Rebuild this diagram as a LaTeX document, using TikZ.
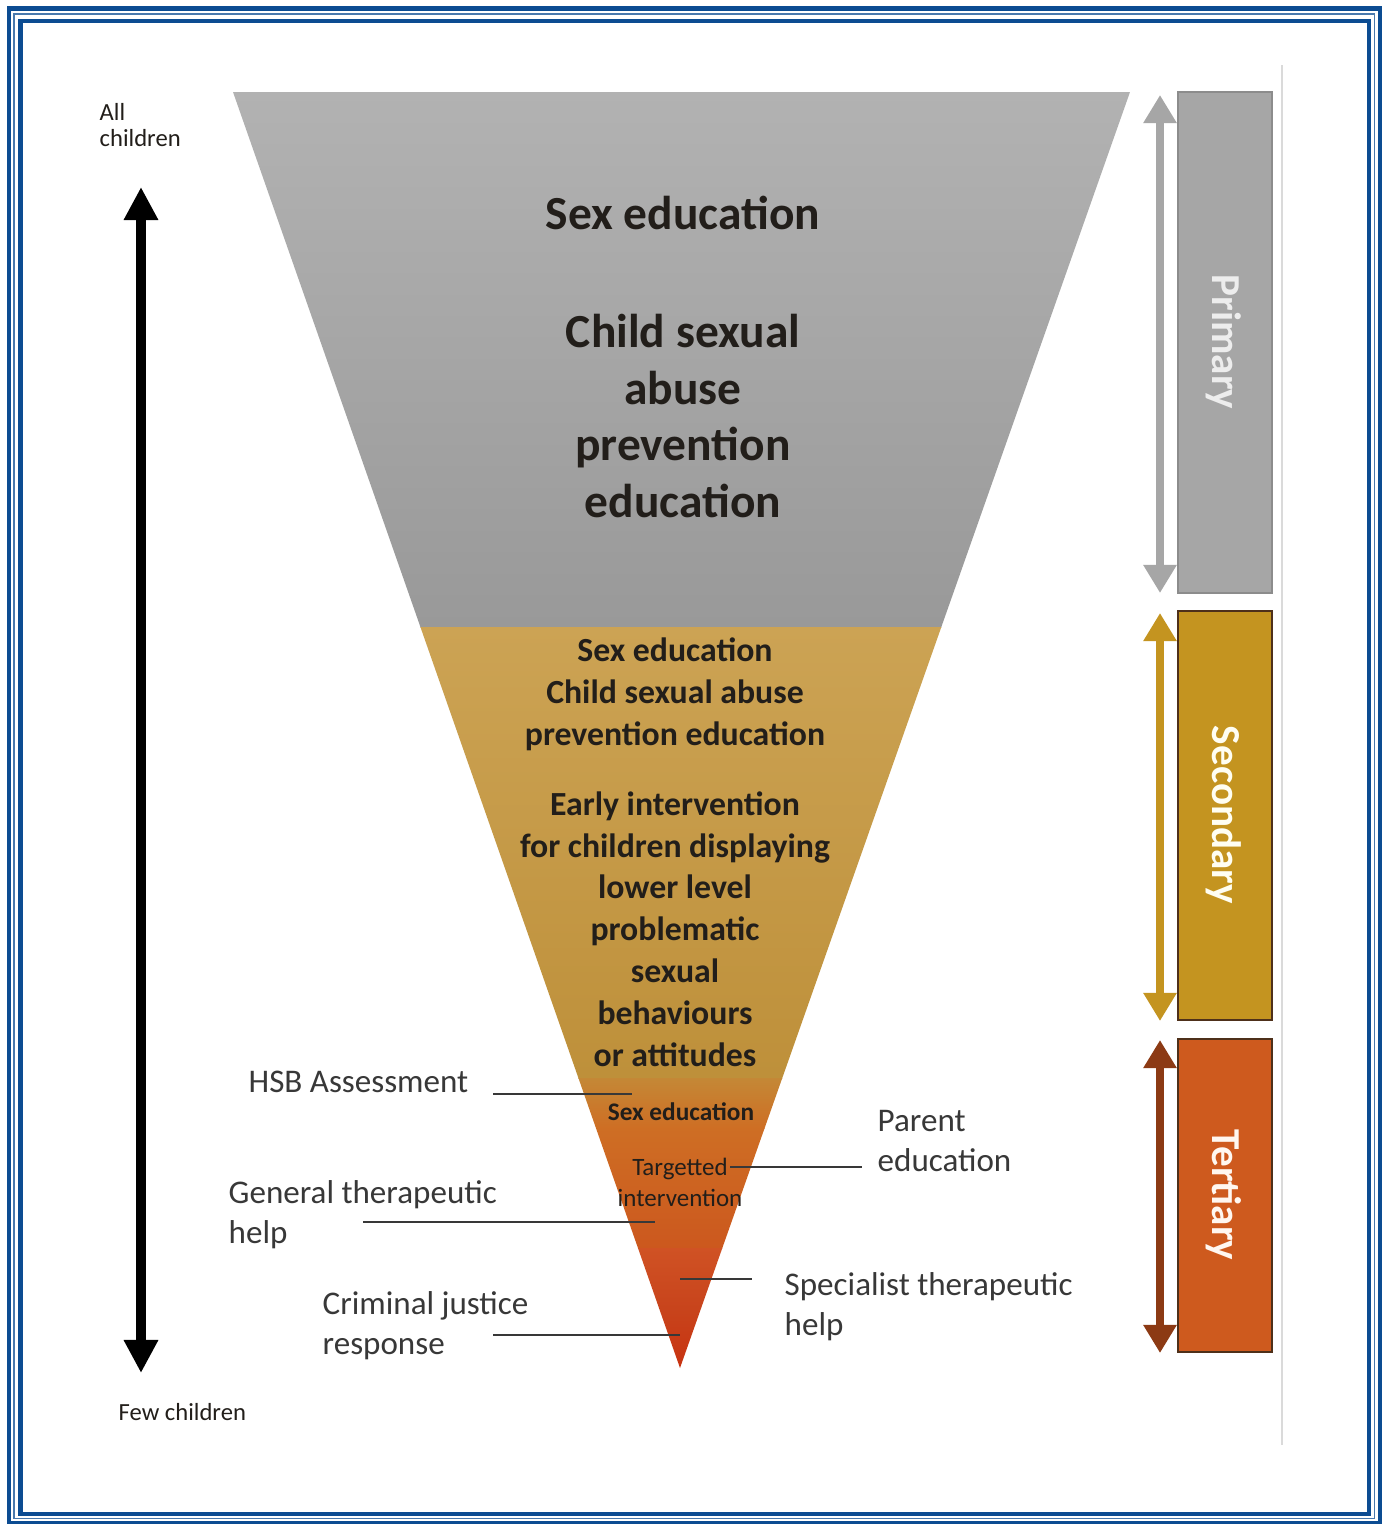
\documentclass[tikz,border=0pt]{standalone}
\usepackage{fontspec}
\setmainfont{Carlito}
\usetikzlibrary{arrows.meta}

\definecolor{bordblue}{RGB}{12,76,146}
\definecolor{grtop}{RGB}{178,178,178}
\definecolor{grbot}{RGB}{153,153,153}
\definecolor{gdtop}{RGB}{204,163,84}
\definecolor{gdbot}{RGB}{190,144,58}
\definecolor{ortop}{RGB}{196,136,54}
\definecolor{ormid}{RGB}{206,110,36}
\definecolor{orbot}{RGB}{204,88,30}
\definecolor{rdtop}{RGB}{208,82,36}
\definecolor{rdmid}{RGB}{200,68,28}
\definecolor{rdbot}{RGB}{200,50,16}
\definecolor{primfill}{RGB}{166,166,166}
\definecolor{primbord}{RGB}{140,140,140}
\definecolor{secfill}{RGB}{196,148,32}
\definecolor{terfill}{RGB}{206,90,30}
\definecolor{barbord}{RGB}{78,48,26}
\definecolor{terarrow}{RGB}{140,58,20}
\definecolor{txtdark}{RGB}{34,30,26}
\definecolor{txtgrey}{RGB}{56,56,56}
\definecolor{linegrey}{RGB}{218,218,218}

\begin{document}
\begin{tikzpicture}
[x=0.01cm,y=-0.01cm,>={Triangle[width=9pt,length=8pt]},
 side/.style = {anchor=west, align=left, inner sep=0pt, text=txtgrey, font=\fontsize{9.4}{11.4}\selectfont},
 inside/.style = {align=center, inner sep=0pt, text=txtdark},
 lead/.style = {draw=txtgrey, line width=0.6pt},
 bar/.style = {draw=barbord, line width=0.7pt},
 tag/.style = {rotate=-90, inner sep=0pt, font=\fontsize{11.7}{14}\selectfont\bfseries},]

\useasboundingbox (0,0) rectangle (1381,1524);
\fill[white] (0,0) rectangle (1381,1524);

% frame
\draw[bordblue, line width=1.3pt] (9,8.5) rectangle (1380,1523);
\draw[bordblue!75, line width=0.45pt] (14,14) rectangle (1374.5,1518.5);
\draw[bordblue, line width=1.15pt] (20.5,21) rectangle (1369,1514);

% funnel
\coordinate (TL) at (233,92);
\coordinate (TR) at (1130,92);
\coordinate (Ap) at (680,1368);
\begin{scope}
\clip (TL) -- (TR) -- (Ap) -- cycle;
\shade[top color=grtop, bottom color=grbot] (200,90) rectangle (1160,627);
\shade[top color=gdtop, bottom color=gdbot] (200,627) rectangle (1160,1078);
\shade[top color=ortop, bottom color=ormid] (200,1078) rectangle (1160,1128);
\shade[top color=ormid, bottom color=orbot] (200,1128) rectangle (1160,1248);
\shade[top color=rdtop, bottom color=rdmid] (200,1248) rectangle (1160,1308);
\shade[top color=rdmid, bottom color=rdbot] (200,1308) rectangle (1160,1370);
\end{scope}

% texts in the funnel
\node (psex) [inside, font=\fontsize{13.5}{16.2}\selectfont\bfseries] at (683,213) {Sex education};
\node (pcsa) [inside, font=\fontsize{13.5}{16.2}\selectfont\bfseries] at (683,416) {Child sexual\\abuse\\prevention\\education};
\node (ssex) [inside, font=\fontsize{9.6}{11.9}\selectfont\bfseries] at (675,694) {Sex education\\Child sexual abuse\\prevention education};
\node (searly) [inside, font=\fontsize{9.6}{11.9}\selectfont\bfseries] at (675,929) {Early intervention\\for children displaying\\lower level\\problematic\\sexual\\behaviours\\or attitudes};
\node (tsex) [inside, font=\fontsize{7.2}{8.8}\selectfont\bfseries] at (681,1112) {Sex education};
\node (ttarg) [inside, font=\fontsize{7.1}{8.8}\selectfont] at (680,1182) {Targetted\\intervention};

% labels and leader lines
\node (hsb) [side] at (248,1082) {HSB Assessment};
\node (parent) [side] at (877,1141) {Parent\\education};
\node (general) [side] at (228,1215) {General therapeutic\\help};
\node (special) [side] at (784,1307) {Specialist therapeutic\\help};
\node (crim) [side] at (322,1326) {Criminal justice\\response};

\coordinate (hsbA) at (493,1094);   \coordinate (hsbB) at (632,1094);
\coordinate (parA) at (730,1167);   \coordinate (parB) at (862,1167);
\coordinate (genA) at (363,1222);   \coordinate (genB) at (655,1222);
\coordinate (speA) at (680,1279);   \coordinate (speB) at (752,1279);
\coordinate (criA) at (493,1335);   \coordinate (criB) at (680,1335);
\draw [lead] (hsbA)--(hsbB);
\draw [lead] (parA)--(parB);
\draw [lead] (genA)--(genB);
\draw [lead] (speA)--(speB);
\draw [lead] (criA)--(criB);

% left scale
\node (all) [side, text=txtdark, font=\fontsize{7}{7.2}\selectfont] at (99,125) {All\\children};
\node (few) [side, text=txtdark, font=\fontsize{7}{8.4}\selectfont] at (118,1412) {Few children};
\coordinate (allT) at (141,187);
\coordinate (fewB) at (141,1373);
\draw [<->, line width=2.8pt, >={Triangle[width=9.2pt,length=9.4pt]}] (allT)--(fewB);

% right side
\coordinate (sepT) at (1282,65);
\coordinate (sepB) at (1282,1445);
\draw [linegrey, line width=0.6pt] (sepT)--(sepB);

\draw [bar, draw=primbord, fill=primfill] (1178,92) rectangle (1272,593);
\draw [bar, fill=secfill] (1178,611) rectangle (1272,1020);
\draw [bar, fill=terfill] (1178,1039) rectangle (1272,1352);
\node (prim) [tag, text=white!93!black] at (1224,342) {Primary};
\node (sec) [tag, text=white!95!yellow] at (1224,815) {Secondary};
\node (ter) [tag, text=white!94!orange] at (1224,1195) {Tertiary};

\coordinate (pT) at (1160,95);   \coordinate (pB) at (1160,593);
\coordinate (sT) at (1160,613);  \coordinate (sB) at (1160,1021);
\coordinate (tT) at (1160,1040); \coordinate (tB) at (1160,1353);
\draw [<->, line width=2.4pt, primfill] (pT)--(pB);
\draw [<->, line width=2.4pt, secfill] (sT)--(sB);
\draw [<->, line width=2.4pt, terarrow] (tT)--(tB);

\end{tikzpicture}
\end{document}
